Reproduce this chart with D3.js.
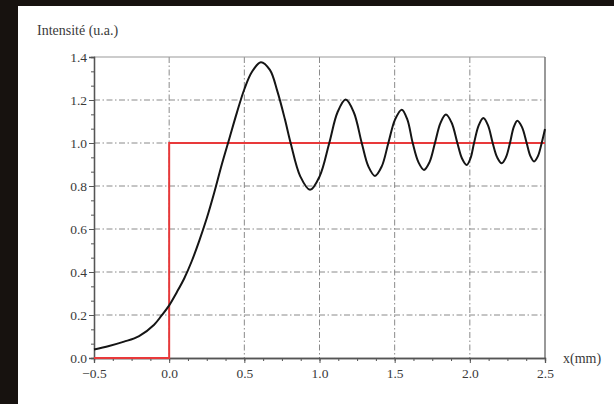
<!DOCTYPE html>
<html><head><meta charset="utf-8">
<script src="https://cdn.jsdelivr.net/npm/d3@7"></script>
<style>html,body{margin:0;padding:0;background:#17120f;overflow:hidden}</style>
</head><body>
<svg id="c" width="614" height="404"></svg>
<script>
// Data
const curveX = [-0.5, -0.4, -0.3, -0.2, -0.1, -0.05, 0, 0.05, 0.1, 0.15, 0.2, 0.25, 0.3, 0.35, 0.4, 0.45, 0.5, 0.55, 0.61, 0.67, 0.72, 0.77, 0.808, 0.872, 0.937, 1.001, 1.065, 1.12, 1.174, 1.228, 1.281, 1.325, 1.369, 1.414, 1.458, 1.503, 1.547, 1.584, 1.62, 1.658, 1.695, 1.732, 1.768, 1.805, 1.841, 1.879, 1.917, 1.948, 1.979, 2.004, 2.028, 2.059, 2.09, 2.121, 2.152, 2.182, 2.212, 2.24, 2.267, 2.292, 2.316, 2.347, 2.378, 2.403, 2.427, 2.453, 2.478, 2.5];
const curveY = [0.04, 0.056, 0.076, 0.102, 0.155, 0.198, 0.245, 0.305, 0.37, 0.45, 0.545, 0.65, 0.77, 0.9, 1.02, 1.14, 1.25, 1.33, 1.376, 1.34, 1.24, 1.11, 1.0, 0.845, 0.782, 0.845, 1.0, 1.143, 1.202, 1.143, 1.0, 0.891, 0.847, 0.891, 1.0, 1.11, 1.155, 1.11, 1.0, 0.911, 0.875, 0.911, 1.0, 1.094, 1.132, 1.094, 1.0, 0.928, 0.898, 0.928, 1.0, 1.082, 1.116, 1.082, 1.0, 0.933, 0.906, 0.933, 1.0, 1.074, 1.104, 1.074, 1.0, 0.939, 0.914, 0.939, 1.0, 1.065];
const stepX = [-0.5, 0, 0, 2.5];
const stepY = [0, 0, 1, 1];
const xTicks = [-0.5, 0.0, 0.5, 1.0, 1.5, 2.0, 2.5];
const yTicks = [0.0, 0.2, 0.4, 0.6, 0.8, 1.0, 1.2, 1.4];
const yLabel = "Intensité (u.a.)";
const xLabel = "x(mm)";

const svg = d3.select("#c");
svg.append("rect").attr("x",18).attr("y",6).attr("width",596).attr("height",398).attr("fill","#fff");

const L=94, R=545, T=57, B=358;
const x = d3.scaleLinear().domain([-0.5,2.5]).range([L,R]);
const y = d3.scaleLinear().domain([0,1.4]).range([B,T]);
const font = "'Liberation Serif','DejaVu Serif',serif";

// grid
const g = svg.append("g");
g.selectAll(".gx").data(xTicks.slice(1,-1)).join("line")
  .attr("x1",d=>x(d)).attr("x2",d=>x(d)).attr("y1",T).attr("y2",B)
  .attr("stroke","#8a8a8a").attr("stroke-width",1).attr("stroke-dasharray","6,2.5,1.5,2.5");
g.selectAll(".gy").data(yTicks.slice(1,-1)).join("line")
  .attr("y1",d=>y(d)).attr("y2",d=>y(d)).attr("x1",L).attr("x2",R)
  .attr("stroke","#8a8a8a").attr("stroke-width",1).attr("stroke-dasharray","6,2.5,1.5,2.5");
// box top & right
svg.append("line").attr("x1",L).attr("x2",R).attr("y1",T).attr("y2",T).attr("stroke","#999").attr("stroke-width",1.2);
svg.append("line").attr("x1",R).attr("x2",R).attr("y1",T).attr("y2",B).attr("stroke","#777").attr("stroke-width",1.5);

// axes
const xAxis = d3.axisBottom(x).tickValues(xTicks).tickFormat(d3.format(".1f")).tickSize(5).tickPadding(5);
const xMinor = d3.axisBottom(x).tickValues(d3.range(-0.5,2.5001,0.125)).tickFormat("").tickSize(3);
const yAxis = d3.axisLeft(y).tickValues(yTicks).tickFormat(d3.format(".1f")).tickSize(5).tickPadding(2);
const yMinor = d3.axisLeft(y).tickValues(d3.range(0,1.4001,0.2/3)).tickFormat("").tickSize(3);

function style(sel){
  sel.select(".domain").attr("stroke","#555").attr("stroke-width",1.3);
  sel.selectAll(".tick line").attr("stroke","#555");
  sel.selectAll("text").attr("font-family",font).attr("font-size",13.5).attr("fill","#3a3a3a");
}
svg.append("g").attr("transform",`translate(0,${B})`).call(xMinor).call(style);
svg.append("g").attr("transform",`translate(0,${B})`).call(xAxis).call(style);
svg.append("g").attr("transform",`translate(${L},0)`).call(yMinor).call(style);
svg.append("g").attr("transform",`translate(${L},0)`).call(yAxis).call(style);

// step (red)
const stepData = stepX.map((v,i)=>[v,stepY[i]]);
svg.append("path").datum(stepData)
  .attr("d",d3.line().x(d=>x(d[0])).y(d=>y(d[1])))
  .attr("fill","none").attr("stroke","#e8393a").attr("stroke-width",2);

// curve
const cData = curveX.map((v,i)=>[v,curveY[i]]);
svg.append("path").datum(cData)
  .attr("d",d3.line().curve(d3.curveCatmullRom.alpha(0.5)).x(d=>x(d[0])).y(d=>y(d[1])))
  .attr("fill","none").attr("stroke","#151515").attr("stroke-width",2);

// labels
svg.append("text").attr("x",37).attr("y",35).text(yLabel)
  .attr("font-family",font).attr("font-size",14).attr("fill","#3a3a3a");
svg.append("text").attr("x",563).attr("y",363).text(xLabel)
  .attr("font-family",font).attr("font-size",14).attr("fill","#3a3a3a");
</script>
</body></html>
